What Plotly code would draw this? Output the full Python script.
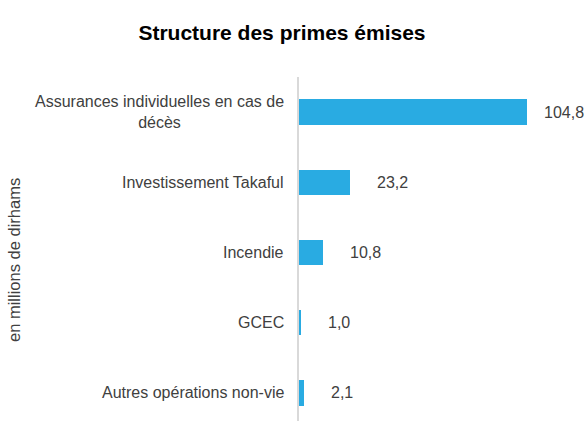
import plotly.graph_objects as go

categories = ["Assurances individuelles en cas de<br>décès", "Investissement Takaful", "Incendie", "GCEC", "Autres opérations non-vie"]
values = [104.8, 23.2, 10.8, 1.0, 2.1]
value_labels = ["104,8", "23,2", "10,8", "1,0", "2,1"]
title_text = "Structure des primes émises"
axis_title = "en millions de dirhams"

bar_color = "#29ABE2"
text_color = "#404040"
FONT = "Liberation Sans, Arial"

W, H = 584, 421
L, R, T, B = 299, 9, 77, 0
pw, ph = W - L - R, H - T - B

fig = go.Figure()
fig.add_trace(go.Bar(
    x=values, y=categories, orientation="h",
    marker=dict(color=bar_color, line=dict(width=0)),
    width=0.36, hoverinfo="skip",
))

annotations = []
vmax = max(values)
for c, v, lab in zip(categories, values, value_labels):
    annotations.append(dict(
        x=v, y=c, xref="x", yref="y", text=lab, showarrow=False,
        xanchor="left", yanchor="middle", xshift=15 if v == vmax else 25,
        font=dict(family=FONT, size=16, color=text_color),
    ))
    annotations.append(dict(
        x=0, y=c, xref="paper", yref="y", text=c, showarrow=False,
        xanchor="right", yanchor="middle", align="center", xshift=-13,
        font=dict(family=FONT, size=16, color=text_color),
    ))
annotations.append(dict(
    x=-(L - 14) / pw, y=(H - 260 - B) / ph, xref="paper", yref="paper",
    text=axis_title, showarrow=False, textangle=-90,
    xanchor="center", yanchor="middle",
    font=dict(family=FONT, size=16.5, color=text_color),
))

fig.update_layout(
    width=W, height=H,
    margin=dict(l=L, r=R, t=T, b=B, pad=0),
    paper_bgcolor="white", plot_bgcolor="white",
    title=dict(text="<b>" + title_text + "</b>", x=282 / W, xanchor="center", y=1 - 33 / H, yanchor="middle",
               font=dict(family=FONT, size=21, color="black")),
    xaxis=dict(range=[0, 126.8], visible=False, showgrid=False, zeroline=False),
    yaxis=dict(range=[4.4, -0.5], showticklabels=False, ticks="", showgrid=False, zeroline=False,
               showline=True, linecolor="#d9d9d9", linewidth=1.5),
    annotations=annotations,
    showlegend=False,
    bargap=0,
)

fig.write_html("out.html",
               config={"displayModeBar": False},
               post_script="document.body.style.margin='0';document.body.style.overflow='hidden';")
